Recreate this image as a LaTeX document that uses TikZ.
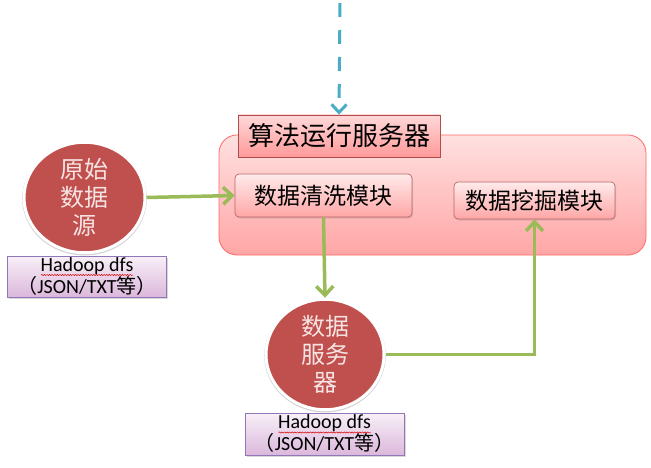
\documentclass[tikz,border=0pt]{standalone}
\usepackage{fontspec}
\setmainfont{Noto Sans CJK SC}
\newfontfamily\latinf{Carlito}
\usetikzlibrary{arrows.meta,shapes.geometric,shadows,decorations.pathmorphing,calc}
\definecolor{grn}{HTML}{9BBB59}
\definecolor{blu}{HTML}{4BACC6}
\definecolor{circ}{HTML}{C0504D}
\definecolor{circtext}{HTML}{F6E4E4}
\definecolor{purb}{HTML}{8F78B8}
\tikzset{
  x=1pt,y=1pt,
  bigbox/.style={draw=red!45!pink, line width=0.8pt, rounded corners=18pt,
    top color=red!12!white, bottom color=red!35!white},
  titlebox/.style={draw=red!55!black!70, line width=0.8pt,
    top color=red!15!white, bottom color=red!40!white,
    drop shadow={shadow xshift=1pt,shadow yshift=-1.5pt,opacity=0.25},
    font=\fontsize{26}{28}\selectfont, inner sep=0pt},
  modbox/.style={draw=red!55!black!60, line width=0.7pt, rounded corners=4pt,
    top color=red!8!white, bottom color=red!35!white,
    drop shadow={shadow xshift=1pt,shadow yshift=-1.5pt,opacity=0.25},
    font=\fontsize{23}{25}\selectfont, inner sep=0pt},
  blob/.style={ellipse, fill=circ, draw=white, line width=3pt,
    drop shadow={shadow xshift=0pt,shadow yshift=-1pt,opacity=0.35,shadow scale=1.03},
    text=circtext, align=center, font=\fontsize{24}{28}\selectfont, inner sep=0pt},
  hbox/.style={draw=purb, line width=1pt, top color=violet!6!white, bottom color=violet!28!white,
    drop shadow={shadow xshift=1.5pt,shadow yshift=-1.5pt,opacity=0.3},
    align=center, font=\fontsize{20}{22}\selectfont, inner sep=0pt},
  garrow/.style={draw=grn, line width=3.5pt, -{Straight Barb[length=9pt,width=17pt]}},
  barrow/.style={draw=blu, line width=3pt, dash pattern=on 14pt off 13pt,
    -{Straight Barb[length=8pt,width=15pt]}},
  squig/.style={draw=red!85!black, line width=0.5pt, decorate,
    decoration={snake,amplitude=0.6pt,segment length=2.6pt}}
}
\begin{document}
\begin{tikzpicture}
\useasboundingbox[fill=white] (0,0) rectangle (651,-468);
% algorithm server container
\node[bigbox, minimum width=427, minimum height=120] (alg) at (432.5,-195) {};
\node[titlebox, minimum width=202, minimum height=42] (title) at (339,-136) {算法运行服务器};
\node[modbox, minimum width=177, minimum height=43] (clean) at (323.5,-195.5) {数据清洗模块};
\node[modbox, minimum width=161, minimum height=37] (mine) at (534.5,-200.5) {数据挖掘模块};
% source
\node[blob, minimum width=121, minimum height=103] (src) at (84.5,-197.5) {原始\\数据\\源};
\node[hbox, minimum width=159, minimum height=41] (hd1) at (87,-276.5)
  {{\latinf Hadoop dfs}\\（{\latinf JSON/TXT}等）};
\draw[squig] ($(hd1.center)+(-46,1.5)$) -- ($(hd1.center)+(46,1.5)$);
% data server
\node[blob, minimum width=118, minimum height=103] (srv) at (325,-354.5) {数据\\服务\\器};
\node[hbox, minimum width=159, minimum height=42] (hd2) at (324.5,-434)
  {{\latinf Hadoop dfs}\\（{\latinf JSON/TXT}等）};
\draw[squig] ($(hd2.center)+(-46,1.5)$) -- ($(hd2.center)+(46,1.5)$);
% connectors
\coordinate (topin) at (340,-3);
\draw[barrow] (topin) -- (title.north);
\draw[garrow] (src.east) -- (clean.west);
\draw[garrow] (clean.south) -- (srv.north);
\draw[garrow] (srv.east) -| (mine.south);
\end{tikzpicture}
\end{document}
